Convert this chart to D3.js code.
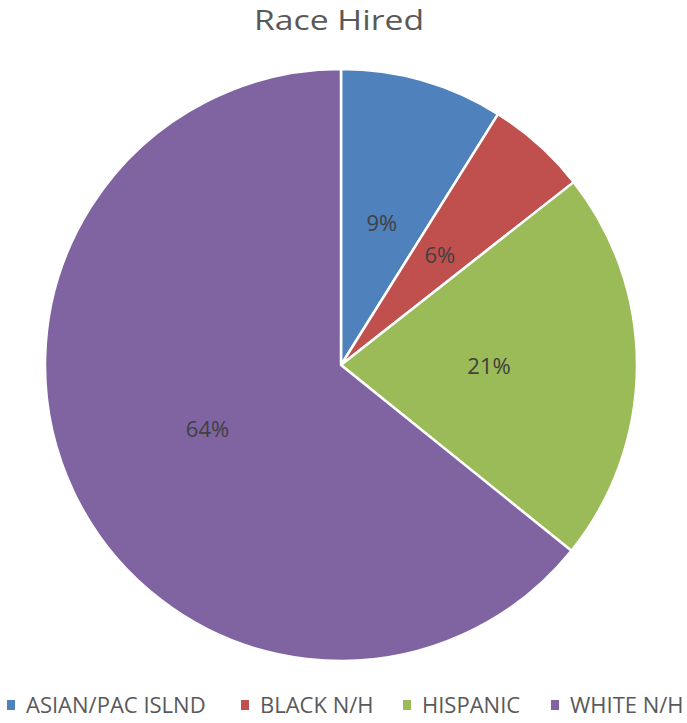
<!DOCTYPE html>
<html>
<head>
<meta charset="utf-8">
<script src="https://cdn.jsdelivr.net/npm/d3@7"></script>
<style>
  body { margin: 0; background: #fff; }
</style>
</head>
<body>
<div id="chart"></div>
<script>
const categories = ["ASIAN/PAC ISLND", "BLACK N/H", "HISPANIC", "WHITE N/H"];
const values = [8.9, 5.5, 21.4, 64.2];
const colors = ["#4F81BD", "#C0504D", "#9BBB59", "#8064A2"];

const width = 687, height = 723;
const cx = 341, cy = 365, radius = 296;
const font = "'Open Sans', 'Liberation Sans', sans-serif";

const svg = d3.select("#chart").append("svg")
    .attr("width", width)
    .attr("height", height);

svg.append("text")
    .attr("x", 254)
    .attr("y", 30)
    .attr("textLength", 170)
    .attr("lengthAdjust", "spacingAndGlyphs")
    .style("font-family", font)
    .style("font-size", "28px")
    .style("fill", "#595959")
    .text("Race Hired");

const data = categories.map((c, i) => ({ name: c, value: values[i], color: colors[i] }));
const total = d3.sum(values);

const pie = d3.pie().sort(null).value(d => d.value);
const arc = d3.arc().innerRadius(0).outerRadius(radius);
const labelArc = d3.arc().innerRadius(radius / 2).outerRadius(radius / 2);

const g = svg.append("g").attr("transform", `translate(${cx},${cy})`);
const arcs = pie(data);

g.selectAll("path")
    .data(arcs)
    .enter().append("path")
    .attr("d", arc)
    .attr("fill", d => d.data.color)
    .attr("stroke", "#fff")
    .attr("stroke-width", 2.5)
    .attr("stroke-linejoin", "round");

g.selectAll("text")
    .data(arcs)
    .enter().append("text")
    .attr("transform", d => `translate(${labelArc.centroid(d)})`)
    .attr("text-anchor", "middle")
    .attr("dy", "0.36em")
    .style("font-family", font)
    .style("font-size", "22px")
    .style("fill", "#404040")
    .text(d => Math.round(d.data.value / total * 100) + "%");

// legend
const legendX = [7, 241, 403, 551];
const legend = svg.append("g");
const item = legend.selectAll("g")
    .data(data)
    .enter().append("g")
    .attr("transform", (d, i) => `translate(${legendX[i]},705)`);

item.append("rect")
    .attr("x", 0)
    .attr("y", -5)
    .attr("width", 8)
    .attr("height", 10)
    .attr("fill", d => d.color);

item.append("text")
    .attr("x", 19)
    .attr("y", 8)
    .style("font-family", font)
    .style("font-size", "22px")
    .style("fill", "#595959")
    .text(d => d.name);
</script>
</body>
</html>
